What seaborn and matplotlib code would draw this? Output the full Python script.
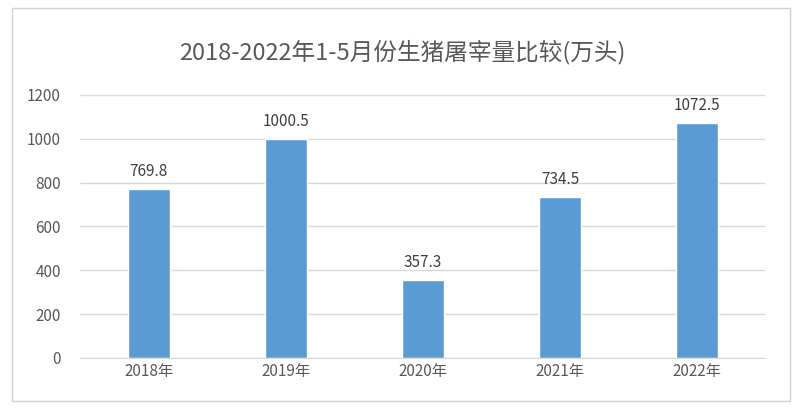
import matplotlib
matplotlib.use("Agg")
import matplotlib.pyplot as plt
import seaborn as sns
import pandas as pd
from matplotlib.patches import Rectangle

years = ["2018年", "2019年", "2020年", "2021年", "2022年"]
values = [769.8, 1000.5, 357.3, 734.5, 1072.5]
yticks = [0, 200, 400, 600, 800, 1000, 1200]

# set_style resets the font list, so pick the CJK family afterwards
sns.set_style("white")
plt.rcParams["font.family"] = "sans-serif"
plt.rcParams["font.sans-serif"] = ["Noto Sans CJK SC", "DejaVu Sans"]

df = pd.DataFrame({"year": years, "value": values})

fig = plt.figure(figsize=(8.04, 4.2), dpi=100)
fig.patches.append(Rectangle((0.015, 0.045), 0.968, 0.935, transform=fig.transFigure,
                             fill=False, edgecolor="#d0d0d0", linewidth=1))
ax = fig.add_axes([0.1, 0.148, 0.852, 0.626])

sns.barplot(data=df, x="year", y="value", color="#5B9BD5", width=0.31,
            saturation=1, ax=ax)
for p, v in zip(ax.patches, values):
    ax.text(p.get_x() + p.get_width() / 2, v + 40, f"{v:.1f}", ha="center",
            va="bottom", fontsize=11, color="#404040")

ax.set_ylim(0, 1200)
ax.set_yticks(yticks)
ax.yaxis.grid(True, color="#d9d9d9", linewidth=1)
ax.set_axisbelow(True)
for s in ["top", "right", "left"]:
    ax.spines[s].set_visible(False)
ax.spines["bottom"].set_color("#d9d9d9")
ax.tick_params(axis="both", length=0, labelsize=11, labelcolor="#595959")
ax.tick_params(axis="y", pad=14)
ax.set_xlabel("")
ax.set_ylabel("")

fig.text(0.5, 0.875, "2018-2022年1-5月份生猪屠宰量比较(万头)", ha="center",
         va="center", fontsize=17, color="#595959")

fig.savefig("out.png", dpi=100)
